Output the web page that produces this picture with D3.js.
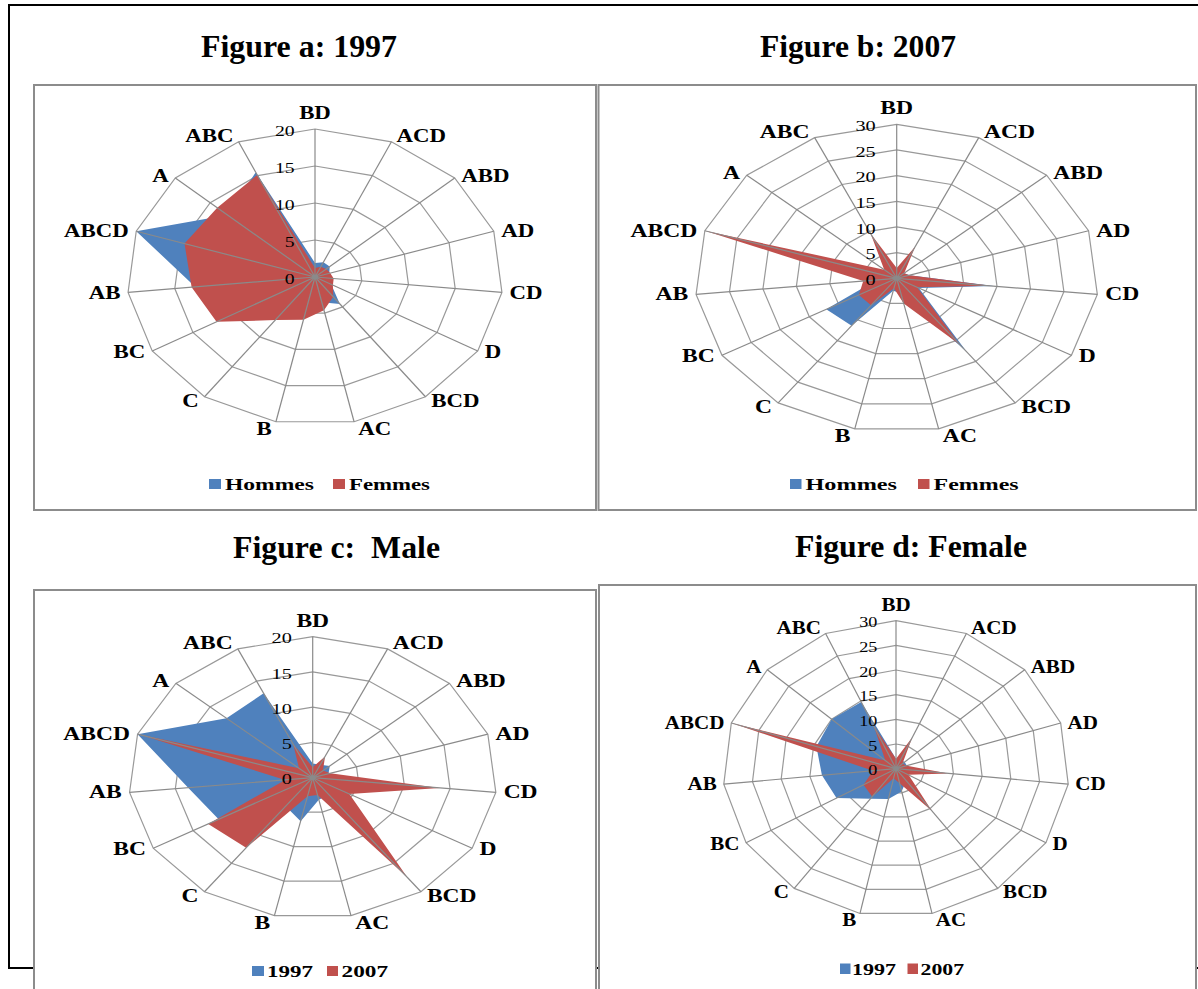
<!DOCTYPE html>
<html>
<head>
	<meta charset="utf-8">
	<title>Radar charts</title>
	<script src="https://d3js.org/d3.v7.min.js"></script>
	<style>
		body { margin: 0; background: #fff; }
	</style>
</head>
<body>
<script type="text/javascript">
	// categories dans l'ordre des aiguilles d'une montre, BD en haut
	var categories = ["BD", "ACD", "ABD", "AD", "CD", "D", "BCD", "AC", "B", "C", "BC", "AB", "ABCD", "A", "ABC"];

	// figure a : 1997
	var hommes1997 = [1.9, 2.2, 2.1, 1.6, 1.8, 2.0, 4.5, 3.5, 4.0, 6.0, 10.0, 12.8, 20.0, 12.5, 15.5];
	var femmes1997 = [1.2, 1.5, 1.6, 1.7, 2.0, 2.2, 3.3, 4.6, 5.9, 7.2, 12.1, 13.2, 14.6, 14.0, 15.1];

	// figure b : 2007
	var hommes2007 = [2.0, 2.0, 1.5, 2.0, 14.5, 3.8, 17.7, 3.0, 2.5, 11.4, 12.1, 3.0, 19.5, 2.0, 4.0];
	var femmes2007 = [2.0, 6.8, 1.5, 2.0, 14.0, 3.5, 16.0, 5.0, 2.0, 6.5, 6.5, 5.0, 30.0, 2.5, 9.5];

	// figure c : male
	var male1997 = [2.0, 2.0, 2.5, 1.8, 2.0, 2.0, 3.0, 3.2, 6.3, 5.0, 11.8, 13.6, 20.0, 12.6, 13.1];
	var male2007 = [1.5, 3.3, 1.5, 2.0, 13.9, 4.6, 17.5, 2.5, 2.7, 12.3, 13.1, 3.0, 19.8, 2.0, 5.2];

	// figure d : female
	var female1997 = [2.0, 2.0, 2.0, 2.0, 2.5, 2.5, 3.0, 4.7, 6.3, 7.5, 11.9, 12.9, 14.5, 15.0, 14.8];
	var female2007 = [2.0, 6.9, 1.5, 2.0, 9.1, 2.5, 10.6, 3.0, 2.0, 7.0, 6.5, 4.0, 30.0, 2.5, 9.4];

	var ticks20 = [0, 5, 10, 15, 20];
	var ticks30 = [0, 5, 10, 15, 20, 25, 30];

	var sexNames = ["Hommes", "Femmes"];
	var yearNames = ["1997", "2007"];
	var colors = ["#4F81BD", "#C0504D"];

	var serif = "'Liberation Serif', 'Times New Roman', serif";

	var svg = d3.select("body")
		.append("svg")
		.attr("width", 1198)
		.attr("height", 989);

	// cadre noir autour de la page
	svg.append("rect")
		.attr("x", 9).attr("y", 5)
		.attr("width", 1190).attr("height", 963)
		.attr("fill", "none")
		.attr("stroke", "#000")
		.attr("stroke-width", 2);

	var panels = [
		{title: "Figure a: 1997", tx: 201, ty: 57, tl: 196,
		 box: [34, 85, 562, 425], cx: 315, cy: 277, ry: 148, sx: 1.27, ticks: ticks20,
		 series: [hommes1997, femmes1997], names: sexNames,
		 legend: {y: 479, h: 10, items: [[209, 12, 225, 89], [333, 12, 349, 81]], base: 490}},
		{title: "Figure b: 2007", tx: 760, ty: 57, tl: 196,
		 box: [598.5, 85, 597.5, 425], cx: 896.7, cy: 278.3, ry: 154, sx: 1.31, ticks: ticks30,
		 series: [hommes2007, femmes2007], names: sexNames,
		 legend: {y: 479, h: 10, items: [[790, 11.5, 805.5, 91.5], [918, 11.5, 933.6, 85]], base: 490}},
		{title: "Figure c:  Male", tx: 233, ty: 558, tl: 207,
		 box: [34, 590, 562, 420], cx: 312.7, cy: 777.7, ry: 141, sx: 1.306, ticks: ticks20,
		 series: [male1997, male2007], names: yearNames,
		 legend: {y: 966, h: 10, items: [[252, 12, 267, 46], [327, 11, 341.5, 46.5]], base: 976.5}},
		{title: "Figure d: Female", tx: 795, ty: 557, tl: 232,
		 box: [599, 585, 597, 420], cx: 896, cy: 768.7, ry: 148, sx: 1.17, ticks: ticks30,
		 series: [female1997, female2007], names: yearNames,
		 legend: {y: 963.5, h: 10.5, items: [[840, 10.5, 852, 44], [907.5, 10.5, 920.5, 43.5]], base: 974.5}}
	];

	var angle = d3.scaleLinear()
		.domain([0, categories.length])
		.range([0, 2 * Math.PI]);

	panels.forEach(drawPanel);

	function drawPanel(p) {
		// titre
		svg.append("text")
			.attr("x", p.tx).attr("y", p.ty)
			.attr("textLength", p.tl)
			.attr("lengthAdjust", "spacingAndGlyphs")
			.style("white-space", "pre")
			.style("font-family", serif)
			.style("font-weight", "bold")
			.style("font-size", "32px")
			.text(p.title);

		// boite du graphique
		svg.append("rect")
			.attr("x", p.box[0]).attr("y", p.box[1])
			.attr("width", p.box[2]).attr("height", p.box[3])
			.attr("fill", "#fff")
			.attr("stroke", "#8c8c8c")
			.attr("stroke-width", 2);

		var max = d3.max(p.ticks);
		var r = d3.scaleLinear().domain([0, max]).range([0, p.ry]);

		var g = svg.append("g")
			.attr("transform", "translate(" + p.cx + "," + p.cy + ") scale(" + p.sx + ",1)");

		var ring = d3.lineRadial()
			.angle(function(d, i) { return angle(i); })
			.radius(function(d) { return r(d); })
			.curve(d3.curveLinearClosed);

		// cercles (polygones) de la grille
		g.selectAll(".ring")
			.data(p.ticks.slice(1))
			.enter().append("path")
			.attr("class", "ring")
			.attr("d", function(t) { return ring(categories.map(function() { return t; })); })
			.attr("fill", "none")
			.attr("stroke", "#999")
			.attr("stroke-width", 1.2)
			.attr("vector-effect", "non-scaling-stroke");

		// les deux series, la deuxieme par dessus
		g.selectAll(".serie")
			.data(p.series)
			.enter().append("path")
			.attr("class", "serie")
			.attr("d", function(d) { return ring(d); })
			.attr("fill", function(d, i) { return colors[i]; });

		// rayons
		g.selectAll(".spoke")
			.data(categories)
			.enter().append("line")
			.attr("class", "spoke")
			.attr("x1", 0).attr("y1", 0)
			.attr("x2", function(d, i) { return r(max) * Math.sin(angle(i)); })
			.attr("y2", function(d, i) { return -r(max) * Math.cos(angle(i)); })
			.attr("stroke", "#8a8a8a")
			.attr("stroke-width", 1.2)
			.attr("vector-effect", "non-scaling-stroke");

		g.append("circle")
			.attr("r", 2.5)
			.attr("fill", "#8a8a8a");

		// graduations
		g.selectAll(".tick")
			.data(p.ticks)
			.enter().append("text")
			.attr("class", "tick")
			.attr("x", -16)
			.attr("y", function(t) { return -r(t) + 1.5; })
			.attr("text-anchor", "end")
			.attr("dominant-baseline", "central")
			.style("font-family", serif)
			.style("font-size", "15.5px")
			.text(function(t) { return t; });

		// etiquettes des categories
		g.selectAll(".cat")
			.data(categories)
			.enter().append("text")
			.attr("class", "cat")
			.each(function(d, i) {
				var a = angle(i), s = Math.sin(a), c = Math.cos(a);
				var vx = r(max) * s, vy = -r(max) * c;
				var el = d3.select(this);
				if (Math.abs(s) < 0.05) {
					el.attr("x", vx).attr("y", vy - 16).attr("text-anchor", "middle");
				} else {
					var pad = 2.5 + 3.5 * Math.abs(s);
					el.attr("x", vx + (s > 0 ? pad : -pad))
						.attr("y", vy - 7.5 * c * c * c)
						.attr("text-anchor", s > 0 ? "start" : "end");
				}
			})
			.attr("dominant-baseline", "central")
			.style("font-family", serif)
			.style("font-weight", "bold")
			.style("font-size", "18px")
			.text(function(d) { return d; });

		// legende
		var leg = svg.append("g");
		p.legend.items.forEach(function(it, i) {
			leg.append("rect")
				.attr("x", it[0]).attr("y", p.legend.y)
				.attr("width", it[1]).attr("height", p.legend.h)
				.attr("fill", colors[i]);
			leg.append("text")
				.attr("x", it[2]).attr("y", p.legend.base)
				.attr("textLength", it[3])
				.attr("lengthAdjust", "spacingAndGlyphs")
				.style("font-family", serif)
				.style("font-weight", "bold")
				.style("font-size", "16.5px")
				.text(p.names[i]);
		});
	}
</script>
</body>
</html>
